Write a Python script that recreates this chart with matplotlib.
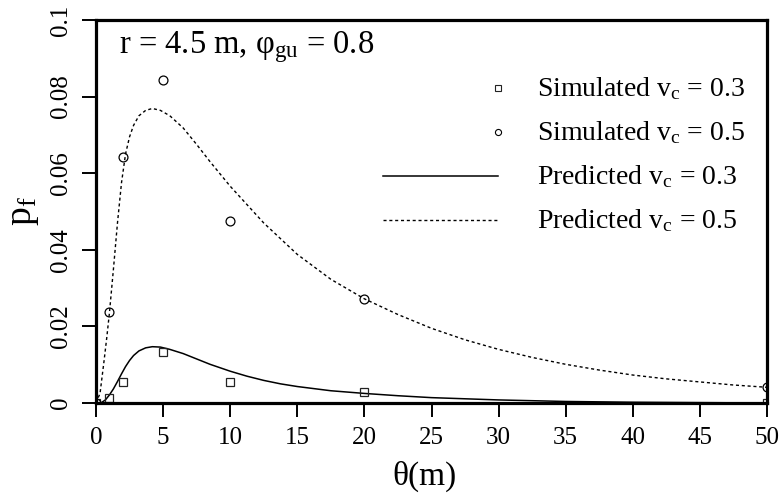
import matplotlib
matplotlib.use("Agg")
import matplotlib.pyplot as plt

plt.rcParams['font.family'] = ['Liberation Serif', 'DejaVu Serif']
plt.rcParams['mathtext.fontset'] = 'custom'
plt.rcParams['mathtext.rm'] = 'Liberation Serif'
plt.rcParams['mathtext.it'] = 'Liberation Serif:italic'

# ---- data ----
sim_theta = [0, 1, 2, 5, 10, 20, 50]
sim_03 = [0.0, 0.0014, 0.0056, 0.0133, 0.0056, 0.0028, 0.0]
sim_05 = [0.0, 0.0237, 0.0641, 0.0843, 0.0474, 0.0271, 0.0043]

pred03_theta = [0, 0.4, 0.7, 1.0, 1.3, 1.6, 1.9, 2.2, 2.5, 2.8, 3.2, 3.7, 4.2,
                4.8, 5.5, 6.5, 7.5, 8.5, 10, 11.25, 12.5, 13.75, 15, 17.5, 20,
                22.5, 25, 27.5, 30, 35, 40, 45, 50]
pred03 = [0.0, 0.0001, 0.0008, 0.0021, 0.0037, 0.0056, 0.0076, 0.0095, 0.0111,
          0.0124, 0.0136, 0.0144, 0.0147, 0.0146, 0.0140, 0.0129, 0.0115,
          0.0101, 0.0083, 0.0070, 0.0059, 0.0050, 0.0043, 0.0032, 0.0025,
          0.0019, 0.0014, 0.0011, 0.0008, 0.0004, 0.0002, 0.0001, 0.0]

pred05_theta = [0, 0.3, 0.6, 0.8, 1.0, 1.3, 1.6, 1.9, 2.2, 2.5, 2.8, 3.2, 3.7,
                4.2, 4.8, 5.5, 6.5, 7.5, 8.5, 10, 12.5, 15, 17.5, 20, 22.5, 25,
                27.5, 30, 32.5, 35, 37.5, 40, 42.5, 45, 47.5, 50]
pred05 = [0.0, 0.0025, 0.0110, 0.0170, 0.0235, 0.0350, 0.0470, 0.0575, 0.0650,
          0.0695, 0.0725, 0.0750, 0.0764, 0.0769, 0.0764, 0.0750, 0.0718,
          0.0675, 0.0630, 0.0566, 0.0470, 0.0388, 0.0323, 0.0272, 0.0231,
          0.0195, 0.0165, 0.0140, 0.0119, 0.0101, 0.0086, 0.0073, 0.0063,
          0.0055, 0.0047, 0.0041]

xticks = [0, 5, 10, 15, 20, 25, 30, 35, 40, 45, 50]
yticks = [0, 0.02, 0.04, 0.06, 0.08, 0.1]
ytick_labels = ['0', '0.02', '0.04', '0.06', '0.08', '0.1']

legend_labels = [r'Simulated $\mathrm{v}_\mathrm{c}$ = 0.3',
                 r'Simulated $\mathrm{v}_\mathrm{c}$ = 0.5',
                 r'Predicted $\mathrm{v}_\mathrm{c}$ = 0.3',
                 r'Predicted $\mathrm{v}_\mathrm{c}$ = 0.5']
annot = r'r = 4.5 m, $\mathrm{φ}_\mathrm{gu}$ = 0.8'

# ---- figure ----
W, H = 784, 493
fig = plt.figure(figsize=(W / 100, H / 100), dpi=100)
L, R, T, B = 96, 767, 20, 403
ax = fig.add_axes([L / W, (H - B) / H, (R - L) / W, (B - T) / H])

dots = (2.2, 2.0)
ax.plot(pred03_theta, pred03, color='black', lw=1.1,
        solid_joinstyle='round', solid_capstyle='round')
ax.plot(pred05_theta, pred05, color='black', lw=1.0, linestyle=(0, dots))
ax.plot(sim_theta, sim_03, linestyle='none', marker='s', ms=6.2, mfc='none',
        mec='#222222', mew=0.9)
ax.plot(sim_theta, sim_05, linestyle='none', marker='o', ms=6.4, mfc='none',
        mec='black', mew=0.9)

ax.set_xlim(0, 50)
ax.set_ylim(0, 0.1)
ax.set_xticks(xticks)
ax.set_yticks(yticks)
ax.set_yticklabels(ytick_labels, rotation=90, va='center')
ax.tick_params(axis='both', direction='out', length=10, width=1.4,
               labelsize=18, pad=7)
for s in ax.spines.values():
    s.set_linewidth(2.3)

ax.set_xlabel('θ(m)', fontsize=24)
ax.xaxis.set_label_coords(0.49, -0.15)
ax.set_ylabel(r'p$_\mathrm{f}$', fontsize=27)
ax.yaxis.set_label_coords(-0.082, 0.5)

def ax_xy(px, py):
    return ((px - L) / (R - L), (B - py) / (B - T))

ax.text(*ax_xy(119, 53), annot, transform=ax.transAxes, fontsize=23.5,
        va='baseline', ha='left')

# manual legend (R style)
mark_rows = [87.5, 131.5, 175.5, 219.5]
text_rows = [96, 140, 184, 228]
tx = ax_xy(537, 0)[0]
x0, _ = ax_xy(383, 0)
x1, _ = ax_xy(498, 0)
for i, (my, ty, lab) in enumerate(zip(mark_rows, text_rows, legend_labels)):
    yy = ax_xy(0, my)[1]
    if i == 0:
        ax.plot([x1], [yy], transform=ax.transAxes, marker='s', ms=4.2,
                mfc='none', mec='#222222', mew=0.8, ls='none', clip_on=False)
    elif i == 1:
        ax.plot([x1], [yy], transform=ax.transAxes, marker='o', ms=4.4,
                mfc='none', mec='black', mew=0.8, ls='none', clip_on=False)
    elif i == 2:
        ax.plot([x0, x1], [yy, yy], transform=ax.transAxes, color='black',
                lw=1.1, clip_on=False)
    else:
        ax.plot([x0, x1], [yy, yy], transform=ax.transAxes, color='black',
                lw=1.0, linestyle=(0, dots), clip_on=False)
    ax.text(tx, ax_xy(0, ty)[1], lab, transform=ax.transAxes, fontsize=20,
            va='baseline', ha='left')

fig.savefig('out.png', dpi=100)
